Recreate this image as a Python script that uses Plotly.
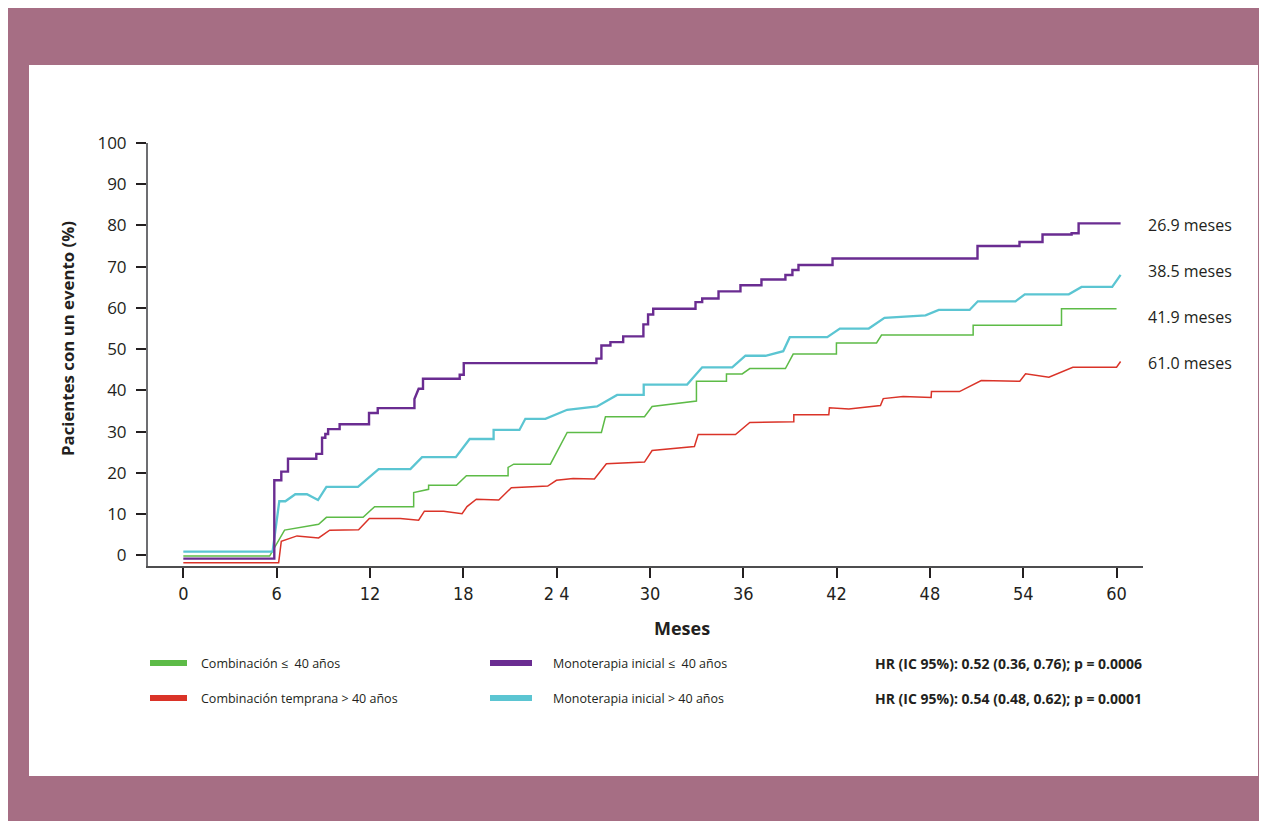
import plotly.graph_objects as go

# ---------------- data (months, % patients with event) ----------------
mono_le40_months = [
    0, 5.85, 5.85, 6.30, 6.30, 6.73, 6.73, 8.55, 8.55, 8.92,
    8.92, 9.13, 9.13, 9.31, 9.31, 10.05, 10.05, 11.94, 11.94, 12.50,
    12.50, 14.86, 14.86, 15.13, 15.41, 15.41, 17.77, 17.77, 18.03, 18.03,
    26.56, 26.56, 26.88, 26.88, 27.46, 27.46, 28.28, 28.28, 29.58, 29.58,
    29.88, 29.88, 30.21, 30.21, 32.93, 32.93, 33.36, 33.36, 34.41, 34.41,
    35.82, 35.82, 37.17, 37.17, 38.71, 38.71, 39.16, 39.16, 39.55, 39.55,
    41.74, 41.74, 51.06, 51.06, 53.76, 53.76, 55.24, 55.24, 57.11, 57.11,
    57.56, 57.56, 60.26]
mono_le40_pct = [
    -0.8, -0.8, 18.2, 18.2, 20.3, 20.3, 23.4, 23.4, 24.6, 24.6,
    28.5, 28.5, 29.4, 29.4, 30.6, 30.6, 31.8, 31.8, 34.5, 34.5,
    35.7, 35.7, 37.9, 40.4, 40.4, 42.8, 42.8, 43.8, 43.8, 46.6,
    46.6, 47.7, 47.7, 50.9, 50.9, 51.7, 51.7, 53.1, 53.1, 56.0,
    56.0, 58.4, 58.4, 59.8, 59.8, 61.4, 61.4, 62.3, 62.3, 64.0,
    64.0, 65.5, 65.5, 66.9, 66.9, 68.0, 68.0, 69.2, 69.2, 70.4,
    70.4, 72.0, 72.0, 75.0, 75.0, 76.0, 76.0, 77.8, 77.8, 78.1,
    78.1, 80.5, 80.5]

mono_gt40_months = [
    0, 5.74, 6.17, 6.56, 7.20, 7.95, 8.66, 9.20, 11.23, 12.56,
    14.60, 15.35, 17.52, 18.41, 19.95, 19.95, 21.61, 21.99, 23.28, 24.68,
    26.60, 27.89, 29.60, 29.60, 32.39, 33.36, 35.29, 36.14, 37.43, 38.57,
    38.99, 41.40, 42.21, 44.07, 45.08, 47.72, 48.57, 50.55, 51.08, 53.50,
    54.10, 56.93, 57.75, 59.72, 60.26]
mono_gt40_pct = [
    0.9, 0.9, 13.1, 13.1, 14.8, 14.8, 13.4, 16.6, 16.6, 20.9,
    20.9, 23.8, 23.8, 28.2, 28.2, 30.4, 30.4, 33.1, 33.1, 35.3,
    36.1, 38.9, 38.9, 41.4, 41.4, 45.6, 45.6, 48.4, 48.4, 49.5,
    52.9, 52.9, 55.0, 55.0, 57.6, 58.2, 59.5, 59.5, 61.6, 61.6,
    63.3, 63.3, 65.1, 65.1, 68.0]

comb_le40_months = [
    0, 5.55, 6.51, 8.70, 9.20, 11.56, 12.30, 14.81, 14.81, 15.77,
    15.77, 17.56, 18.20, 20.88, 20.88, 21.24, 23.60, 24.68, 26.88, 27.14,
    29.65, 30.14, 32.99, 32.99, 34.92, 34.92, 35.93, 36.42, 38.71, 39.21,
    41.99, 41.99, 44.57, 44.89, 50.78, 50.78, 56.46, 56.46, 60.00]
comb_le40_pct = [
    -0.2, -0.2, 6.1, 7.5, 9.2, 9.2, 11.8, 11.8, 15.2, 16.0,
    17.0, 17.0, 19.3, 19.3, 21.3, 22.1, 22.1, 29.8, 29.8, 33.6,
    33.6, 36.1, 37.4, 42.2, 42.2, 44.0, 44.0, 45.3, 45.3, 48.8,
    48.8, 51.5, 51.5, 53.4, 53.4, 55.8, 55.8, 59.8, 59.8]

comb_gt40_months = [
    0, 6.13, 6.30, 7.31, 8.70, 9.41, 11.27, 11.96, 13.95, 15.13,
    15.50, 16.74, 17.92, 18.24, 18.84, 20.28, 21.09, 23.43, 23.99, 25.06,
    26.43, 27.20, 29.65, 30.14, 32.86, 33.10, 35.50, 36.42, 39.25, 39.25,
    41.50, 41.54, 42.79, 44.82, 45.00, 46.28, 48.08, 48.10, 49.90, 51.30,
    53.78, 54.15, 55.65, 57.19, 60.00, 60.26]
comb_gt40_pct = [
    -1.8, -1.8, 3.4, 4.7, 4.2, 6.1, 6.2, 8.9, 8.9, 8.5,
    10.7, 10.7, 10.1, 11.8, 13.6, 13.4, 16.4, 16.8, 18.2, 18.6,
    18.5, 22.2, 22.6, 25.4, 26.4, 29.3, 29.3, 32.2, 32.4, 34.1,
    34.1, 35.8, 35.5, 36.3, 38.0, 38.5, 38.3, 39.7, 39.7, 42.4,
    42.2, 44.0, 43.2, 45.6, 45.6, 47.0]

x_tick_vals = [0, 6, 12, 18, 24, 30, 36, 42, 48, 54, 60]
x_tick_text = ["0", "6", "12", "18", "2 4", "30", "36", "42", "48", "54", "60"]
y_tick_vals = [0, 10, 20, 30, 40, 50, 60, 70, 80, 90, 100]

median_labels = ["26.9 meses", "38.5 meses", "41.9 meses", "61.0 meses"]
legend_labels = ["Combinación ≤  40 años", "Combinación temprana > 40 años",
                 "Monoterapia inicial ≤  40 años", "Monoterapia inicial > 40 años"]
hr_labels = ["HR (IC 95%): 0.52 (0.36, 0.76); p = 0.0006",
             "HR (IC 95%): 0.54 (0.48, 0.62); p = 0.0001"]

# ---------------- style ----------------
PURPLE = "#6A2C91"
CYAN = "#5BC5D2"
GREEN = "#5DBB47"
RED = "#DA3328"
MAUVE = "#A66E84"
TXT = "#231F20"
FONT = "Open Sans, Noto Sans, sans-serif"

OFF = 8  # page body margin
W, H = 1251, 813
ML, MR, MT, MB = 140, 116, 135, 255
PW, PH = W - ML - MR, H - MT - MB


def px(x):
    """screen pixel x -> paper coordinate"""
    return (x - OFF - ML) / PW


def py(y):
    """screen pixel y -> paper coordinate"""
    return (H - MB - (y - OFF)) / PH


fig = go.Figure()
series = [
    (comb_le40_months, comb_le40_pct, GREEN, 1.5),
    (comb_gt40_months, comb_gt40_pct, RED, 1.5),
    (mono_gt40_months, mono_gt40_pct, CYAN, 2.3),
    (mono_le40_months, mono_le40_pct, PURPLE, 2.4),
]
for xs, ys, col, w in series:
    assert len(xs) == len(ys)
    fig.add_trace(go.Scatter(x=xs, y=ys, mode="lines",
                             line=dict(color=col, width=w),
                             showlegend=False, hoverinfo="skip"))

shapes = [
    dict(type="rect", xref="paper", yref="paper", layer="below",
         x0=px(29), x1=px(1258), y0=py(65), y1=py(776),
         fillcolor="white", line=dict(width=0)),
]
# legend swatches
for (x0, x1, yc, col) in [(150, 187, 663, GREEN), (150, 187, 698, RED),
                          (490, 532, 663, PURPLE), (490, 532, 698, CYAN)]:
    shapes.append(dict(type="rect", xref="paper", yref="paper",
                       x0=px(x0), x1=px(x1), y0=py(yc - 3), y1=py(yc + 3),
                       fillcolor=col, line=dict(width=0)))

annotations = []
for lab, yc in zip(median_labels, [225, 271, 317, 363]):
    annotations.append(dict(text=lab, xref="paper", yref="paper",
                            x=px(1146), y=py(yc), xanchor="left", yanchor="middle",
                            showarrow=False, font=dict(family=FONT, size=16, color=TXT)))
for lab, (xl, yc) in zip(legend_labels, [(199, 663), (199, 698), (551, 663), (551, 698)]):
    annotations.append(dict(text=lab, xref="paper", yref="paper",
                            x=px(xl), y=py(yc), xanchor="left", yanchor="middle",
                            showarrow=False, font=dict(family=FONT, size=12.5, color=TXT)))
for lab, yc in zip(hr_labels, [663, 698]):
    annotations.append(dict(text="<b>" + lab + "</b>", xref="paper", yref="paper",
                            x=px(873), y=py(yc), xanchor="left", yanchor="middle",
                            showarrow=False, font=dict(family=FONT, size=14, color=TXT)))
annotations.append(dict(text="<b>Meses</b>", xref="paper", yref="paper",
                        x=px(682), y=py(628), xanchor="center", yanchor="middle",
                        showarrow=False, font=dict(family=FONT, size=18, color=TXT)))
annotations.append(dict(text="<b>Pacientes con un evento (%)</b>", xref="paper", yref="paper",
                        x=px(67), y=py(339), xanchor="center", yanchor="middle",
                        textangle=-90, showarrow=False,
                        font=dict(family=FONT, size=16.8, color=TXT)))

fig.update_layout(
    width=W, height=H,
    margin=dict(l=ML, r=MR, t=MT, b=MB, pad=0),
    paper_bgcolor=MAUVE, plot_bgcolor="rgba(0,0,0,0)",
    shapes=shapes, annotations=annotations,
    showlegend=False,
    xaxis=dict(range=[-2.27, 61.7], showgrid=False, zeroline=False,
               showline=True, linecolor="#4D4D4F", linewidth=2,
               ticks="outside", ticklen=10, tickwidth=1.5, tickcolor="#231F20",
               tickvals=x_tick_vals, ticktext=x_tick_text, ticklabelstandoff=0,
               tickfont=dict(family="Liberation Sans Narrow, DejaVu Sans Condensed, Open Sans",
                             size=18, color=TXT)),
    yaxis=dict(range=[-2.6, 100], showgrid=False, zeroline=False,
               showline=True, linecolor="#6D6E71", linewidth=2,
               ticks="outside", ticklen=10, tickwidth=1.5, tickcolor="#231F20",
               tickvals=y_tick_vals, ticklabelstandoff=6,
               tickfont=dict(family=FONT, size=17, color=TXT)),
)

fig.write_html("out.html")
